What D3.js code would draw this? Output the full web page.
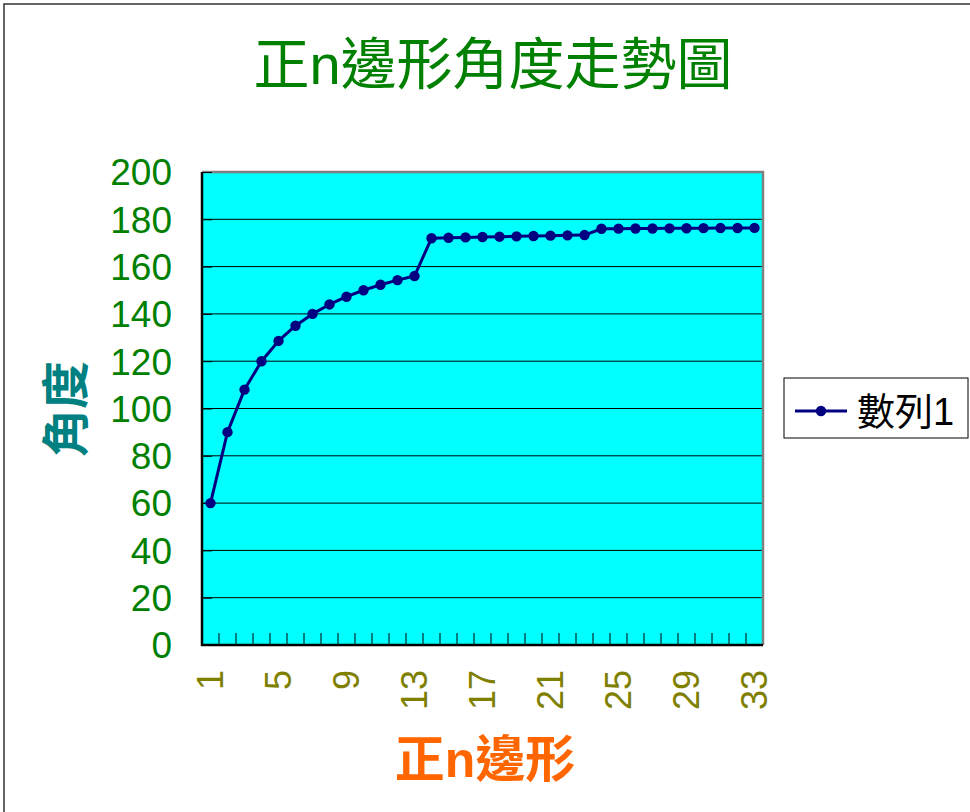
<!DOCTYPE html>
<html>
<head>
<meta charset="utf-8">
<script src="https://cdn.jsdelivr.net/npm/d3@7"></script>
<style>
  html, body { margin: 0; padding: 0; background: #fff; }
  svg { display: block; }
</style>
</head>
<body>
<svg id="chart" width="970" height="812"></svg>
<script>
// Interior angle (degrees) of the regular polygon shown at each position
const categories = d3.range(1, 34).map(String);
const angles = [
  60, 90, 108, 120, 128.57, 135, 140, 144, 147.27, 150, 152.31, 154.29, 156,
  172, 172.17, 172.34, 172.5, 172.65, 172.8, 172.94, 173.08, 173.21, 173.33,
  176, 176.04, 176.09, 176.13, 176.17, 176.21, 176.25, 176.29, 176.33, 176.36
];
const yTicks = [0, 20, 40, 60, 80, 100, 120, 140, 160, 180, 200];
const xTickLabels = ["1", "5", "9", "13", "17", "21", "25", "29", "33"];
const seriesName = "數列1";

const latin = "'Liberation Sans', Arial, 'Noto Sans CJK TC', sans-serif";
const svg = d3.select("#chart");

// outer chart frame (only its top and left edges fall inside the page)
svg.append("rect")
  .attr("x", 4).attr("y", 4).attr("width", 1100).attr("height", 1000)
  .attr("fill", "#fff").attr("stroke", "#333").attr("stroke-width", 1.5);

const plot = { left: 202, right: 763, top: 172, bottom: 645 };

const x = d3.scaleBand().domain(categories).range([plot.left, plot.right]).padding(0);
const y = d3.scaleLinear().domain([0, 200]).range([plot.bottom, plot.top]);

// plot background
svg.append("rect")
  .attr("x", plot.left).attr("y", plot.top)
  .attr("width", plot.right - plot.left).attr("height", plot.bottom - plot.top)
  .attr("fill", "#00FFFF");

// horizontal gridlines
svg.append("g").selectAll("line")
  .data(yTicks.filter(v => v > 0 && v < 200))
  .join("line")
  .attr("x1", plot.left).attr("x2", plot.right)
  .attr("y1", d => y(d)).attr("y2", d => y(d))
  .attr("stroke", "#000").attr("stroke-width", 1);

// plot border: grey top/right
svg.append("path")
  .attr("d", `M${plot.left},${plot.top}H${plot.right}V${plot.bottom}`)
  .attr("fill", "none").attr("stroke", "#808080").attr("stroke-width", 2.5);

// y axis (ticks point inward)
const yAxis = svg.append("g")
  .attr("transform", `translate(${plot.left},0)`)
  .call(d3.axisRight(y).tickValues(yTicks).tickSize(10).tickFormat(""));
yAxis.select(".domain").remove();
yAxis.selectAll(".tick line").attr("stroke", "#000");

svg.append("g").selectAll("text")
  .data(yTicks)
  .join("text")
  .attr("x", 172).attr("y", d => y(d)).attr("dy", "0.36em")
  .attr("text-anchor", "end")
  .attr("font-family", latin).attr("font-size", 37)
  .attr("fill", "#008000")
  .text(d => d);

// x axis ticks at category boundaries, pointing up into the plot
const boundaries = categories.slice(1).map(c => x(c));
svg.append("g").selectAll("line")
  .data(boundaries)
  .join("line")
  .attr("x1", d => d).attr("x2", d => d)
  .attr("y1", plot.bottom).attr("y2", plot.bottom - 12)
  .attr("stroke", "#000").attr("stroke-width", 1);

// axis lines
svg.append("line")
  .attr("x1", plot.left).attr("x2", plot.left)
  .attr("y1", plot.top).attr("y2", plot.bottom + 1)
  .attr("stroke", "#000").attr("stroke-width", 2.5);
svg.append("line")
  .attr("x1", plot.left - 1).attr("x2", plot.right)
  .attr("y1", plot.bottom).attr("y2", plot.bottom)
  .attr("stroke", "#000").attr("stroke-width", 2.5);

// rotated x tick labels
svg.append("g").selectAll("text")
  .data(xTickLabels)
  .join("text")
  .attr("transform", d => `translate(${x(d) + x.bandwidth() / 2},670) rotate(-90)`)
  .attr("dy", "0.36em")
  .attr("text-anchor", "end")
  .attr("font-family", latin).attr("font-size", 36)
  .attr("fill", "#808000")
  .text(d => d);

// series line and markers
const cx = (d, i) => x(categories[i]) + x.bandwidth() / 2;
svg.append("path")
  .datum(angles)
  .attr("d", d3.line().x(cx).y(d => y(d)))
  .attr("fill", "none").attr("stroke", "#000080").attr("stroke-width", 3)
  .attr("stroke-linejoin", "round");
svg.append("g").selectAll("circle")
  .data(angles)
  .join("circle")
  .attr("cx", cx).attr("cy", d => y(d)).attr("r", 5.2)
  .attr("fill", "#000080");

// titles
svg.append("text")
  .attr("x", 493).attr("y", 64).attr("dy", "0.36em")
  .attr("text-anchor", "middle")
  .attr("font-family", latin).attr("font-size", 56)
  .attr("fill", "#008000")
  .text("正n邊形角度走勢圖");

svg.append("text")
  .attr("transform", "translate(66,409) rotate(-90)")
  .attr("dy", "0.36em")
  .attr("text-anchor", "middle")
  .attr("font-family", latin).attr("font-size", 48).attr("font-weight", "bold")
  .attr("fill", "#008080")
  .text("角度");

svg.append("text")
  .attr("x", 485).attr("y", 759).attr("dy", "0.36em")
  .attr("text-anchor", "middle")
  .attr("font-family", latin).attr("font-size", 50).attr("font-weight", "bold")
  .attr("fill", "#FF6600")
  .text("正n邊形");

// legend
const legend = svg.append("g");
legend.append("rect")
  .attr("x", 784).attr("y", 378).attr("width", 184).attr("height", 60)
  .attr("fill", "#fff").attr("stroke", "#000").attr("stroke-width", 1);
legend.append("line")
  .attr("x1", 795).attr("x2", 847).attr("y1", 411).attr("y2", 411)
  .attr("stroke", "#000080").attr("stroke-width", 3);
legend.append("circle")
  .attr("cx", 821).attr("cy", 411).attr("r", 5.2).attr("fill", "#000080");
legend.append("text")
  .attr("x", 857).attr("y", 411).attr("dy", "0.36em")
  .attr("font-family", latin).attr("font-size", 38)
  .attr("fill", "#000")
  .text(seriesName);
</script>
</body>
</html>
